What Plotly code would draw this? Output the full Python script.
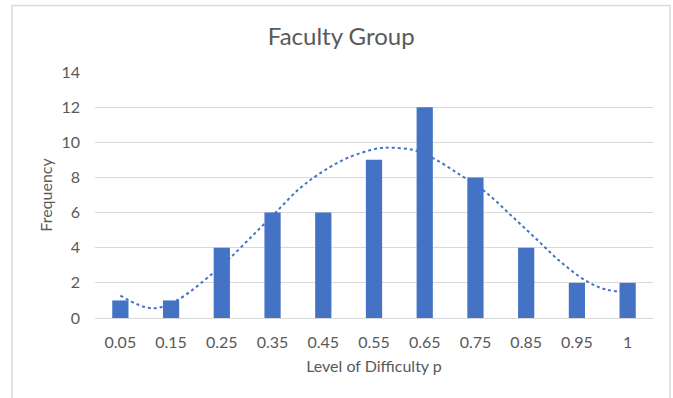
import plotly.graph_objects as go

categories = ["0.05", "0.15", "0.25", "0.35", "0.45", "0.55", "0.65", "0.75", "0.85", "0.95", "1"]
frequency = [1, 1, 4, 6, 6, 9, 12, 8, 4, 2, 2]

# Trendline (x in category-index units, 1 = first category)
trend_x = [1, 1.62, 2.11, 2.83, 3.16, 3.62, 4.08, 4.54, 4.94, 5.46, 6.09, 6.32,
           6.78, 7.17, 7.7, 8.19, 8.69, 9.18, 9.67, 10.2, 10.59, 11]
trend_y = [1.27, 0.55, 1.0, 2.56, 3.41, 4.73, 6.06, 7.39, 8.24, 9.09, 9.66, 9.69,
           9.56, 9.09, 8.14, 7.19, 5.87, 4.55, 3.22, 2.08, 1.61, 1.5]

y_ticks = [0, 2, 4, 6, 8, 10, 12, 14]

idx = list(range(1, len(categories) + 1))

BLUE = "#4472C4"
TEXT = "#595959"
GRID = "#D9D9D9"
FONT = "Lato"

fig = go.Figure()
fig.add_trace(go.Bar(x=idx, y=frequency, width=0.32, marker=dict(color=BLUE, line=dict(width=0)),
                     showlegend=False))
fig.add_trace(go.Scatter(x=trend_x, y=trend_y, mode="lines",
                         line=dict(color=BLUE, width=2, dash="dot", shape="spline", smoothing=1.0),
                         showlegend=False))

fig.update_layout(
    width=673, height=398,
    margin=dict(l=95, r=20, t=72, b=80),
    paper_bgcolor="white", plot_bgcolor="white",
    font=dict(family=FONT, color=TEXT, size=16),
    title=dict(text="Faculty Group", x=0.507, xanchor="center", y=0.907, yanchor="middle",
               font=dict(family=FONT, size=24, color=TEXT)),
    bargap=0.68,
)
fig.update_xaxes(range=[0.5, 11.5], tickmode="array", tickvals=idx, ticktext=categories,
                 showgrid=False, zeroline=False, showline=True, linecolor=GRID, linewidth=1,
                 ticks="", ticklabelstandoff=10,
                 title=dict(text="Level of Difficulty p", font=dict(family=FONT, size=16, color=TEXT), standoff=10))
fig.update_yaxes(range=[0, 14], tickmode="array", tickvals=y_ticks,
                 showgrid=True, gridcolor=GRID, gridwidth=1, zeroline=False, showline=False,
                 ticks="", ticklabelstandoff=14,
                 title=dict(text="Frequency", font=dict(family=FONT, size=16, color=TEXT), standoff=4))

# chart border
fig.add_shape(type="rect", xref="paper", yref="paper",
              x0=(12 - 95) / 558, x1=(670 - 95) / 558,
              y0=(318.3 - 420) / 246.6, y1=(318.3 - 5) / 246.6,
              line=dict(color=GRID, width=1.5), fillcolor="rgba(0,0,0,0)", layer="below")

fig.write_html("out.html", post_script="document.body.style.margin='0';",
               config={"displayModeBar": False})
